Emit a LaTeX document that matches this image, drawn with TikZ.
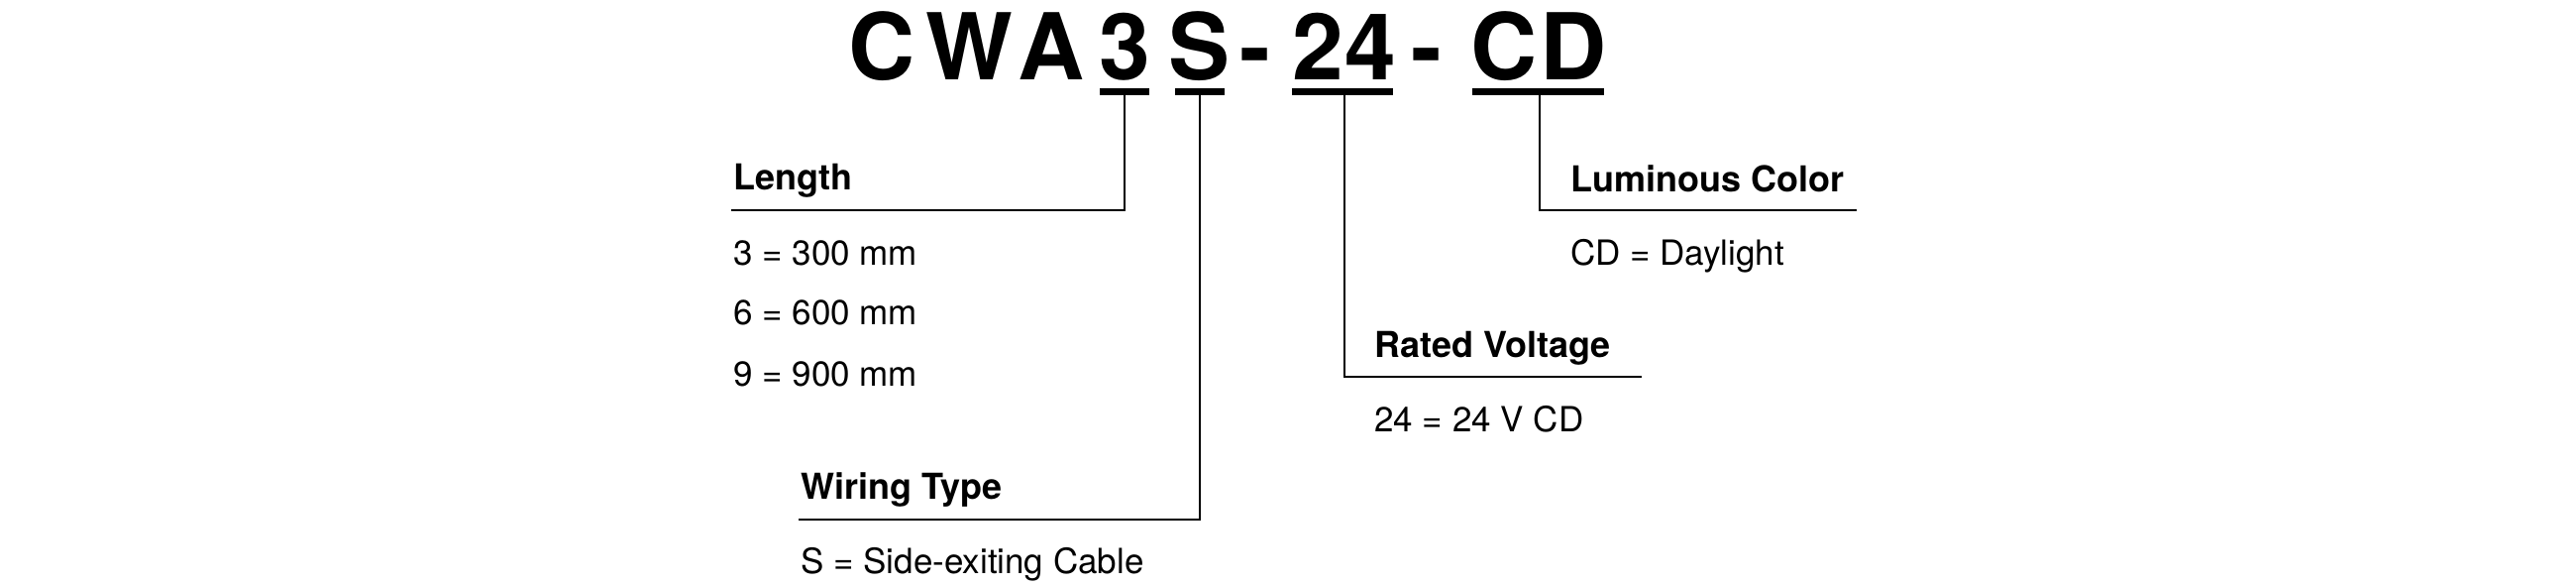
\documentclass[tikz,border=0pt]{standalone}
\usepackage{fontspec}
\setmainfont{TeX Gyre Heros}
\begin{document}
\begin{tikzpicture}[x=1pt,y=-1pt,
  ttl/.style={anchor=base,inner sep=0pt,font=\fontsize{93}{93}\selectfont\bfseries},
  lbl/.style={anchor=base west,inner sep=0pt,font=\fontsize{36}{40}\selectfont\bfseries},
  itm/.style={anchor=base west,inner sep=0pt,font=\fontsize{35}{40}\selectfont},
  bar/.style={line width=7pt},
  lead/.style={line width=1.6pt}]
\useasboundingbox (0,0) rectangle (2600,590);
\node[ttl] (c1) at (890,80) {C};
\node[ttl] (w) at (978,80) {W};
\node[ttl] (a) at (1061,80) {A};
\node[ttl] (n3) at (1135,80) {3};
\node[ttl] (s) at (1211,80) {S};
\node[ttl] (d1) at (1267,80) {-};
\node[ttl] (n2) at (1330,80) {2};
\node[ttl] (n4) at (1383,80) {4};
\node[ttl] (d2) at (1440,80) {-};
\node[ttl] (c2) at (1518,80) {C};
\node[ttl] (dd) at (1588,80) {D};
\draw[bar] (1110,92.5) -- (1160,92.5);
\draw[bar] (1186,92.5) -- (1236,92.5);
\draw[bar] (1304,92.5) -- (1406,92.5);
\draw[bar] (1486,92.5) -- (1619,92.5);
\coordinate (t3) at (1135,96); \coordinate (tS) at (1211,96);
\coordinate (t24) at (1357,96); \coordinate (tCD) at (1554,96);
% Length
\node[lbl] (len) at (740,191) {Length};
\coordinate (lenE) at (738,212);
\draw[lead] (t3) |- (lenE);
\node[itm] (l3) at (740,267) {3 = 300 mm};
\node[itm] (l6) at (740,327) {6 = 600 mm};
\node[itm] (l9) at (740,389) {9 = 900 mm};
% Wiring
\node[lbl] (wir) at (808,503) {Wiring Type};
\coordinate (wirE) at (806,524);
\draw[lead] (tS) |- (wirE);
\node[itm] (ws) at (808,578) {S = Side-exiting Cable};
% Rated
\node[lbl] (rat) at (1387,360) {Rated Voltage};
\coordinate (ratE) at (1657,380);
\draw[lead] (t24) |- (ratE);
\node[itm] (r24) at (1387,435) {24 = 24 V CD};
% Luminous
\node[lbl] (lum) at (1585,193) {Luminous Color};
\coordinate (lumE) at (1874,212);
\draw[lead] (tCD) |- (lumE);
\node[itm] (lcd) at (1585,267) {CD = Daylight};
\end{tikzpicture}
\end{document}
